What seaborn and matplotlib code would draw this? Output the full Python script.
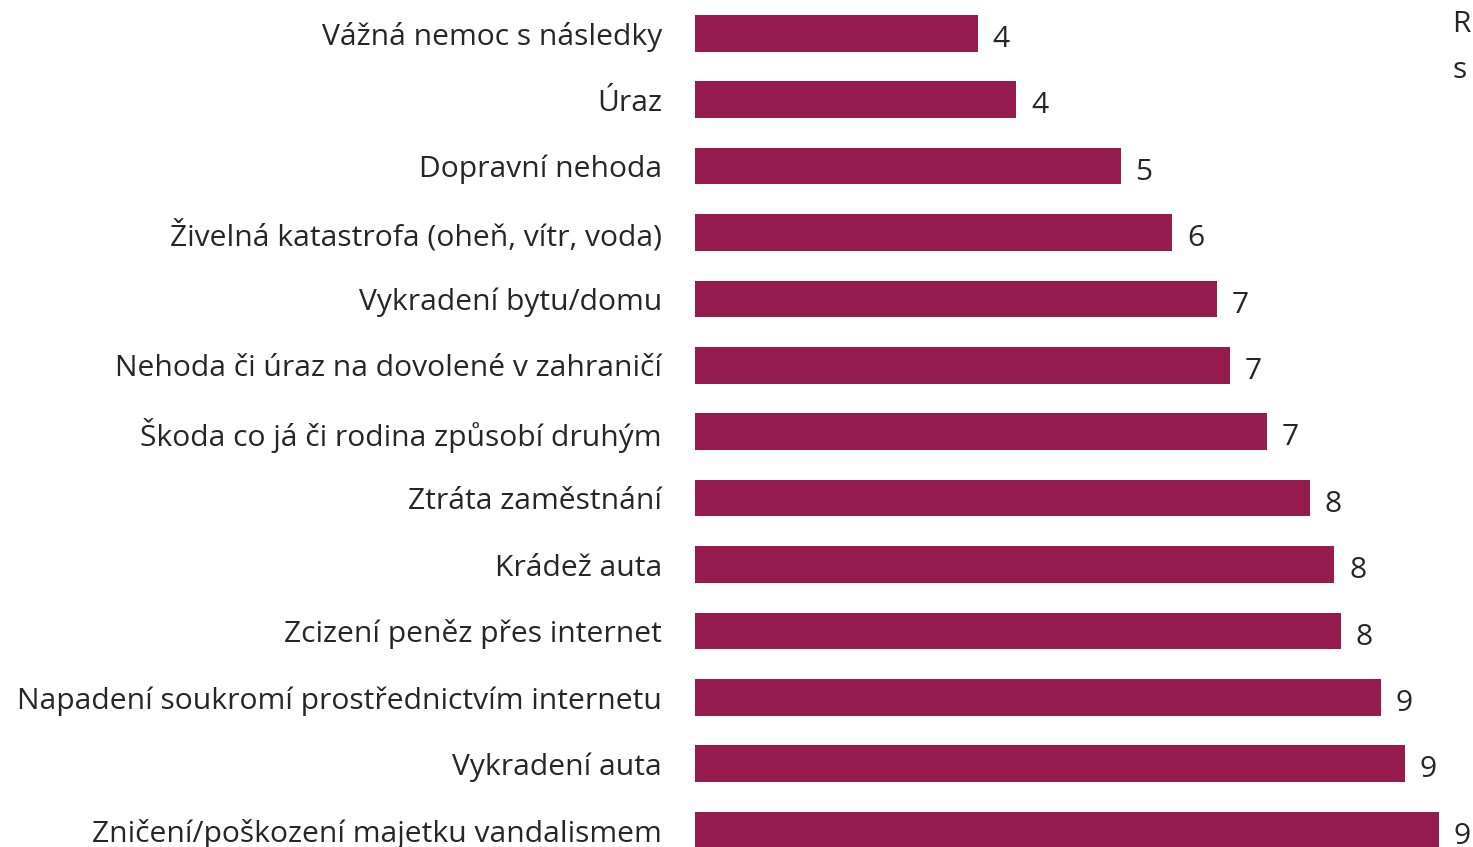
import matplotlib
matplotlib.use("Agg")
import matplotlib.pyplot as plt
import seaborn as sns
import pandas as pd

categories = [
    "Vážná nemoc s následky",
    "Úraz",
    "Dopravní nehoda",
    "Živelná katastrofa (oheň, vítr, voda)",
    "Vykradení bytu/domu",
    "Nehoda či úraz na dovolené v zahraničí",
    "Škoda co já či rodina způsobí druhým",
    "Ztráta zaměstnání",
    "Krádež auta",
    "Zcizení peněz přes internet",
    "Napadení soukromí prostřednictvím internetu",
    "Vykradení auta",
    "Zničení/poškození majetku vandalismem",
]
values = [3.56, 4.05, 5.36, 6.01, 6.57, 6.74, 7.20, 7.74, 8.05, 8.13, 8.64, 8.94, 9.36]
value_labels = ["4", "4", "5", "6", "7", "7", "7", "8", "8", "8", "9", "9", "9"]
cut_text = ["R", "s"]

sns.set_theme(style="white")
plt.rcParams["font.family"] = ["Open Sans", "DejaVu Sans"]

df = pd.DataFrame({"cat": categories, "val": values})

W, H = 1473, 847
fig = plt.figure(figsize=(W / 100, H / 100), dpi=100)
ax_left = 694.5
ax = fig.add_axes([ax_left / W, 0, (W - ax_left) / W, 1])

bar_color = "#961C50"
sns.barplot(data=df, y="cat", x="val", orient="h", color=bar_color,
            width=0.55, ax=ax, saturation=1, edgecolor="none")

px_per_unit = 79.5
ax.set_xlim(0, (W - ax_left) / px_per_unit)
step = 66.4
c0 = 33.3
ax.set_ylim((H - c0) / step, -c0 / step)

fs = 21.6
for s in ax.spines.values():
    s.set_visible(False)
ax.set_xticks([])
ax.set_xlabel("")
ax.set_ylabel("")
ax.tick_params(axis="y", length=0, pad=23.5, labelsize=fs, labelcolor="#262626")

text_color = "#262626"
for patch, lab in zip(ax.patches, value_labels):
    x_end = patch.get_x() + patch.get_width()
    yc = patch.get_y() + patch.get_height() / 2
    ax.annotate(lab, (x_end, yc), xytext=(10.5, -4.5), textcoords="offset points",
                ha="left", va="center", fontsize=fs, color=text_color,
                annotation_clip=False)

fig.text(1452 / W, 1 - 24 / H, cut_text[0], ha="left", va="center", fontsize=fs, color=text_color)
fig.text(1452 / W, 1 - 70 / H, cut_text[1], ha="left", va="center", fontsize=fs, color=text_color)

fig.savefig("out.png", dpi=100)
